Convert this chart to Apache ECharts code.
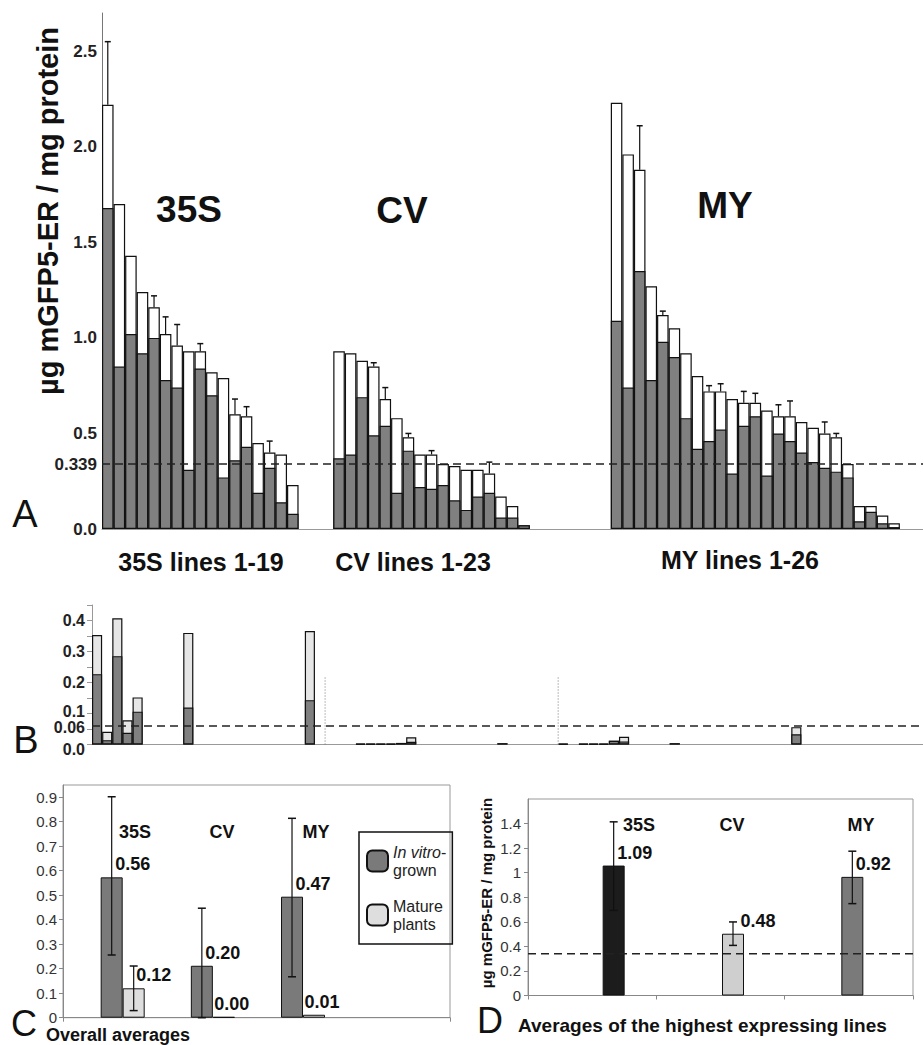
<!DOCTYPE html>
<html>
<head>
<meta charset="utf-8">
<script src="https://cdn.jsdelivr.net/npm/echarts@6/dist/echarts.min.js"></script>
<style>
html, body { margin: 0; padding: 0; background: #fff; }
#main { width: 923px; height: 1045px; }
</style>
</head>
<body>
<div id="main"></div>
<script>
// ---- panel A : per line, in vitro part (grey) and total height (white top), error top
const a35S_grey  = [1.68, 0.85, 1.02, 0.92, 1.00, 0.78, 0.74, 0.31, 0.84, 0.70, 0.27, 0.36, 0.43, 0.19, 0.32, 0.14, 0.08, 0, 0];
const a35S_total = [2.22, 1.70, 1.43, 1.24, 1.16, 1.02, 0.96, 0.93, 0.93, 0.82, 0.79, 0.60, 0.59, 0.45, 0.40, 0.39, 0.23, 0, 0];
const a35S_err   = [2.55, null, null, null, 1.22, 1.11, 1.07, null, 0.97, null, null, 0.68, 0.64, null, 0.46, null, null, null, null];

const aCV_grey  = [0.37, 0.39, 0.69, 0.49, 0.54, 0.19, 0.41, 0.22, 0.21, 0.23, 0.15, 0.10, 0.17, 0.19, 0.06, 0.06, 0.02, 0, 0, 0, 0, 0, 0];
const aCV_total = [0.93, 0.92, 0.88, 0.85, 0.68, 0.58, 0.48, 0.39, 0.39, 0.34, 0.33, 0.31, 0.31, 0.29, 0.17, 0.12, 0.02, 0, 0, 0, 0, 0, 0];
const aCV_err   = [null, null, null, 0.87, 0.74, null, 0.50, null, 0.41, null, null, null, null, 0.35, null, null, null, null, null, null, null, null, null];

const aMY_grey  = [1.09, 0.74, 1.35, 0.78, 0.98, 0.90, 0.58, 0.42, 0.46, 0.52, 0.29, 0.54, 0.59, 0.28, 0.50, 0.46, 0.40, 0.35, 0.32, 0.30, 0.27, 0.04, 0.09, 0.03, 0.01, 0];
const aMY_total = [2.23, 1.96, 1.88, 1.27, 1.12, 1.05, 0.92, 0.80, 0.72, 0.72, 0.68, 0.66, 0.66, 0.62, 0.59, 0.59, 0.56, 0.53, 0.50, 0.48, 0.34, 0.12, 0.12, 0.07, 0.03, 0];
const aMY_err   = [null, null, 2.11, null, 1.14, null, null, null, 0.75, 0.76, null, 0.72, 0.71, null, 0.65, 0.67, null, null, 0.56, 0.50, null, null, null, null, null, null];

const threshA = 0.339;
const ticksA = [0, 0.339, 0.5, 1.0, 1.5, 2.0, 2.5];

// ---- panel B : mature plants, same layout (slots per group)
const b35S_grey  = [0.227, 0.014, 0.285, 0.038, 0.106, 0, 0, 0, 0, 0.119, 0, 0, 0, 0, 0, 0, 0, 0, 0, 0, 0, 0.143, 0];
const b35S_total = [0.353, 0.041, 0.407, 0.078, 0.152, 0, 0, 0, 0, 0.360, 0, 0, 0, 0, 0, 0, 0, 0, 0, 0, 0, 0.366, 0];
const bCV_grey   = [0, 0, 0, 0.003, 0.003, 0.003, 0.003, 0.005, 0.009, 0, 0, 0, 0, 0, 0, 0, 0, 0.004, 0, 0, 0, 0, 0];
const bCV_total  = [0, 0, 0, 0.003, 0.003, 0.003, 0.003, 0.005, 0.023, 0, 0, 0, 0, 0, 0, 0, 0, 0.004, 0, 0, 0, 0, 0];
const bMY_grey   = [0.003, 0, 0.003, 0.003, 0.003, 0.012, 0.010, 0, 0, 0, 0, 0.004, 0, 0, 0, 0, 0, 0, 0, 0, 0, 0, 0, 0.033, 0, 0];
const bMY_total  = [0.003, 0, 0.003, 0.003, 0.003, 0.012, 0.025, 0, 0, 0, 0, 0.004, 0, 0, 0, 0, 0, 0, 0, 0, 0, 0, 0, 0.056, 0, 0];
const threshB = 0.06;
const ticksB = [0, 0.06, 0.1, 0.2, 0.3, 0.4];

// ---- panel C : overall averages
const groups = ['35S', 'CV', 'MY'];
const cVitro = [0.573, 0.212, 0.494];
const cVitroLabel = ['0.56', '0.20', '0.47'];
const cVitroLow = [0.256, 0, 0.167];
const cVitroHigh = [0.902, 0.447, 0.814];
const cMature = [0.12, 0.003, 0.012];
const cMatureLabel = ['0.12', '0.00', '0.01'];
const cMatureLow = [0.029, null, null];
const cMatureHigh = [0.211, null, null];

// ---- panel D : averages of the highest expressing lines
const dValue = [1.058, 0.503, 0.966];
const dLabel = ['1.09', '0.48', '0.92'];
const dLow = [0.693, 0.408, 0.748];
const dHigh = [1.414, 0.599, 1.175];

const FONT = '"Liberation Sans", Arial, sans-serif';
const nz = v => (v ? v : null);

// A: 35S | gap | CV | gap | MY | gap
const aGrey = [].concat(a35S_grey, [0], aCV_grey, [0], aMY_grey, [0]).map(nz);
const aTotal = [].concat(a35S_total, [0], aCV_total, [0], aMY_total, [0]).map(nz);
const aErr = [].concat(a35S_err, [null], aCV_err, [null], aMY_err, [null]);
const catsA = aGrey.map((v, i) => 'A' + i);
const errA = [];
aErr.forEach((e, i) => { if (e != null) errA.push([i, aTotal[i], e]); });

// B: 23 + 23 + 26 slots, empty tail
const tailB = new Array(10).fill(0);
const bGrey = [].concat(b35S_grey, bCV_grey, bMY_grey, tailB).map(nz);
const bTotal = [].concat(b35S_total, bCV_total, bMY_total, tailB).map(nz);
const catsB = bGrey.map((v, i) => 'B' + i);
const sep1 = b35S_grey.length, sep2 = sep1 + bCV_grey.length;

function errRender(dx, cap, both) {
	return function (params, api) {
		const x = api.value(0);
		const lo = api.coord([x, api.value(1)]);
		const hi = api.coord([x, api.value(2)]);
		const cx = lo[0] + dx;
		const kids = [
			{ type: 'line', shape: { x1: cx, y1: lo[1], x2: cx, y2: hi[1] }, style: { stroke: '#111', lineWidth: 1.2 } },
			{ type: 'line', shape: { x1: cx - cap, y1: hi[1], x2: cx + cap, y2: hi[1] }, style: { stroke: '#111', lineWidth: 1.5 } }
		];
		if (both) kids.push({ type: 'line', shape: { x1: cx - cap, y1: lo[1], x2: cx + cap, y2: lo[1] }, style: { stroke: '#111', lineWidth: 1.5 } });
		return { type: 'group', children: kids };
	};
}

function errData(low, high) {
	const out = [];
	low.forEach((l, i) => { if (high[i] != null) out.push([i, l, high[i]]); });
	return out;
}

function txt(x, y, text, font, extra) {
	return Object.assign({ type: 'text', x: x, y: y, style: { text: text, font: font, fill: '#111', align: 'center', verticalAlign: 'middle' } }, extra || {});
}

const chart = echarts.init(document.getElementById('main'), null, { renderer: 'svg' });

const boldLabel = { fontFamily: FONT, fontWeight: 'bold', color: '#111' };
const bLab = { fontSize: 16, fontWeight: 'bold', fontFamily: FONT, color: '#222' };

const option = {
	animation: false,
	backgroundColor: '#fff',
	textStyle: { fontFamily: FONT },
	grid: [
		{ left: 102, top: 13, width: 821, height: 516, outerBoundsMode: 'none' },
		{ left: 92, top: 605, width: 831, height: 139.5, outerBoundsMode: 'none' },
		{ left: 63, top: 785, width: 387, height: 232.7, show: true, borderColor: '#999', borderWidth: 1, outerBoundsMode: 'none' },
		{ left: 77.6, top: 785, width: 270.5, height: 232.7, outerBoundsMode: 'none' },
		{ left: 528, top: 799, width: 385, height: 196.5, show: true, borderColor: '#999', borderWidth: 1, outerBoundsMode: 'none' },
		{ left: 554, top: 799, width: 358, height: 196.5, outerBoundsMode: 'none' }
	],
	xAxis: [
		{ type: 'category', gridIndex: 0, data: catsA, axisLine: { lineStyle: { color: '#999' } }, axisTick: { length: 3, lineStyle: { color: '#bbb' } }, axisLabel: { show: false } },
		{ type: 'category', gridIndex: 1, data: catsB, axisLine: { lineStyle: { color: '#999' } }, axisTick: { length: 3, lineStyle: { color: '#bbb' } }, axisLabel: { show: false } },
		{ type: 'value', gridIndex: 1, min: 0, max: catsB.length, show: false },
		{ type: 'value', gridIndex: 2, min: 0, max: 1, interval: 1, axisLine: { show: true, lineStyle: { color: '#888' } }, axisTick: { show: true, length: 4, lineStyle: { color: '#888' } }, axisLabel: { show: false }, splitLine: { show: false } },
		{ type: 'category', gridIndex: 3, data: groups, show: false },
		{ type: 'value', gridIndex: 4, min: 0, max: 3, interval: 1, axisLine: { show: true, lineStyle: { color: '#888' } }, axisTick: { show: true, length: 4, lineStyle: { color: '#888' } }, axisLabel: { show: false }, splitLine: { show: false } },
		{ type: 'category', gridIndex: 5, data: groups, show: false }
	],
	yAxis: [
		{ type: 'value', gridIndex: 0, min: 0, max: 2.7, axisLine: { show: true, lineStyle: { color: '#777' } }, axisTick: { show: false }, splitLine: { show: false },
			axisLabel: { customValues: ticksA, margin: 5, fontSize: 17, fontWeight: 'bold', color: '#222', fontFamily: FONT,
				formatter: v => (Math.abs(v - threshA) < 1e-6 ? '0.339' : v.toFixed(1)) } },
		{ type: 'value', gridIndex: 1, min: 0, max: 0.45, axisLine: { show: true, lineStyle: { color: '#999' } }, splitLine: { show: false },
			axisTick: { show: true, length: 5, lineStyle: { color: '#999' }, customValues: [0, 0.05, 0.1, 0.15, 0.2, 0.25, 0.3, 0.35, 0.4, 0.45] },
			axisLabel: { customValues: ticksB, margin: 7, fontSize: 16, fontWeight: 'bold', color: '#222', fontFamily: FONT,
				formatter: v => (v === 0 ? '{lo|0.0}' : Math.abs(v - threshB) < 1e-6 ? '{mid|0.06}' : Math.abs(v - 0.1) < 1e-6 ? '{up|0.1}' : v.toFixed(1)),
				rich: {
					lo: Object.assign({ padding: [10, 0, 0, 0] }, bLab),
					mid: Object.assign({ padding: [4, 0, 0, 0] }, bLab),
					up: Object.assign({ padding: [0, 0, 4, 0] }, bLab)
				} } },
		{ type: 'value', gridIndex: 2, min: 0, max: 0.95, interval: 0.1, axisLine: { show: true, lineStyle: { color: '#888' } },
			axisTick: { show: true, length: 4, lineStyle: { color: '#888' } }, splitLine: { show: false },
			axisLabel: { showMaxLabel: false, margin: 6, fontSize: 15, color: '#333', fontFamily: FONT } },
		{ type: 'value', gridIndex: 3, min: 0, max: 0.95, show: false, splitLine: { show: false } },
		{ type: 'value', gridIndex: 4, min: 0, max: 1.6, interval: 0.2, axisLine: { show: true, lineStyle: { color: '#888' } },
			axisTick: { show: true, length: 4, lineStyle: { color: '#888' } }, splitLine: { show: false },
			axisLabel: { showMaxLabel: false, margin: 7, fontSize: 15, color: '#333', fontFamily: FONT } },
		{ type: 'value', gridIndex: 5, min: 0, max: 1.6, show: false, splitLine: { show: false } }
	],
	legend: {
		left: 359, top: 832, orient: 'vertical',
		data: ['In vitro-grown', 'Mature plants'],
		itemWidth: 21, itemHeight: 21, itemGap: 18,
		padding: [11, 6, 11, 7],
		borderColor: '#111', borderWidth: 1.5,
		selectedMode: false,
		textStyle: { fontSize: 16, lineHeight: 18, color: '#222', fontFamily: FONT,
			rich: { i: { fontStyle: 'italic', fontSize: 16, lineHeight: 18, fontFamily: FONT } } },
		formatter: name => (name === 'In vitro-grown' ? '{i|In vitro}-\ngrown' : 'Mature\nplants')
	},
	series: [
		{ type: 'bar', name: 'A total', xAxisIndex: 0, yAxisIndex: 0, data: aTotal, barCategoryGap: '0%', barGap: '-100%',
			itemStyle: { color: '#fff', borderColor: '#111', borderWidth: 1.2 },
			markLine: { silent: true, symbol: 'none', label: { show: false }, lineStyle: { type: [8, 5], color: '#222', width: 1.5 }, data: [{ yAxis: threshA }] } },
		{ type: 'bar', name: 'A in vitro', xAxisIndex: 0, yAxisIndex: 0, data: aGrey, barCategoryGap: '0%', barGap: '-100%',
			itemStyle: { color: '#808080', borderColor: '#111', borderWidth: 1.2 } },
		{ type: 'custom', name: 'A err', xAxisIndex: 0, yAxisIndex: 0, data: errA, encode: { x: 0, y: [1, 2] }, renderItem: errRender(0, 3, false), z: 5 },

		{ type: 'bar', name: 'B total', xAxisIndex: 1, yAxisIndex: 1, data: bTotal, barCategoryGap: '0%', barGap: '-100%',
			itemStyle: { color: '#e6e6e6', borderColor: '#111', borderWidth: 1.2 },
			markLine: { silent: true, symbol: 'none', label: { show: false }, lineStyle: { type: [8, 5], color: '#222', width: 1.5 }, data: [{ yAxis: threshB }] } },
		{ type: 'bar', name: 'B in vitro', xAxisIndex: 1, yAxisIndex: 1, data: bGrey, barCategoryGap: '0%', barGap: '-100%',
			itemStyle: { color: '#808080', borderColor: '#111', borderWidth: 1.2 } },
		{ type: 'line', name: 'B sep1', xAxisIndex: 2, yAxisIndex: 1, data: [[sep1, 0], [sep1, 0.22]], symbol: 'none', lineStyle: { color: '#777', width: 1, type: [1, 2] } },
		{ type: 'line', name: 'B sep2', xAxisIndex: 2, yAxisIndex: 1, data: [[sep2, 0], [sep2, 0.22]], symbol: 'none', lineStyle: { color: '#777', width: 1, type: [1, 2] } },

		{ type: 'bar', name: 'In vitro-grown', xAxisIndex: 4, yAxisIndex: 3, barWidth: 22, barGap: '0%',
			itemStyle: { color: '#7a7a7a', borderColor: '#111', borderWidth: 1 },
			data: cVitro.map((v, i) => ({ value: v, label: { formatter: cVitroLabel[i] } })),
			label: { show: true, position: 'top', distance: 4, offset: [21, 0], fontSize: 18, ...boldLabel } },
		{ type: 'bar', name: 'Mature plants', xAxisIndex: 4, yAxisIndex: 3, barWidth: 22, barGap: '0%',
			itemStyle: { color: '#dedede', borderColor: '#111', borderWidth: 1 },
			data: cMature.map((v, i) => ({ value: v, label: { formatter: cMatureLabel[i], offset: [v > 0.05 ? 20 : 8, 0] } })),
			label: { show: true, position: 'top', distance: 4, fontSize: 18, ...boldLabel } },
		{ type: 'custom', name: 'C err vitro', xAxisIndex: 4, yAxisIndex: 3, data: errData(cVitroLow, cVitroHigh), encode: { x: 0, y: [1, 2] }, renderItem: errRender(-11, 4, true), z: 5 },
		{ type: 'custom', name: 'C err mature', xAxisIndex: 4, yAxisIndex: 3, data: errData(cMatureLow, cMatureHigh), encode: { x: 0, y: [1, 2] }, renderItem: errRender(11, 4, true), z: 5 },

		{ type: 'bar', name: 'D', xAxisIndex: 6, yAxisIndex: 5, barWidth: 22,
			data: dValue.map((v, i) => ({ value: v, itemStyle: { color: ['#1c1c1c', '#cfcfcf', '#7a7a7a'][i] }, label: { formatter: dLabel[i], offset: [i === 1 ? 25 : 21, 0] } })),
			itemStyle: { borderColor: '#111', borderWidth: 1 },
			label: { show: true, position: 'top', distance: 4, fontSize: 18, ...boldLabel } },
		{ type: 'custom', name: 'D err', xAxisIndex: 6, yAxisIndex: 5, data: errData(dLow, dHigh), encode: { x: 0, y: [1, 2] }, renderItem: errRender(0, 4, true), z: 5 },
		{ type: 'line', name: 'D thresh', xAxisIndex: 5, yAxisIndex: 4, data: [[0, threshA], [3, threshA]], symbol: 'none', lineStyle: { type: [8, 5], color: '#222', width: 1.5 } }
	],
	graphic: [
		txt(48, 211, 'µg mGFP5-ER / mg protein', 'bold 29px ' + FONT, { rotation: Math.PI / 2 }),
		txt(189, 209, '35S', 'bold 37px ' + FONT),
		txt(402, 210, 'CV', 'bold 37px ' + FONT),
		txt(725, 205, 'MY', 'bold 37px ' + FONT),
		txt(201, 562, '35S lines 1-19', 'bold 25px ' + FONT),
		txt(413, 562, 'CV lines 1-23', 'bold 25px ' + FONT),
		txt(740, 560, 'MY lines 1-26', 'bold 25px ' + FONT),
		txt(25, 514, 'A', '38px ' + FONT),
		txt(26, 740, 'B', '38px ' + FONT),
		txt(24, 1023, 'C', '36px ' + FONT),
		txt(490, 1020, 'D', '36px ' + FONT),
		{ type: 'text', x: 46, y: 1044, style: { text: 'Overall averages', font: 'bold 18px ' + FONT, fill: '#111', align: 'left', verticalAlign: 'bottom' } },
		{ type: 'text', x: 518, y: 1025, style: { text: 'Averages of the highest expressing lines', font: 'bold 19px ' + FONT, fill: '#111', align: 'left', verticalAlign: 'middle' } },
		txt(135, 832, '35S', 'bold 18px ' + FONT),
		txt(222, 832, 'CV', 'bold 18px ' + FONT),
		txt(316, 832, 'MY', 'bold 18px ' + FONT),
		txt(639, 825, '35S', 'bold 18px ' + FONT),
		txt(732, 825, 'CV', 'bold 18px ' + FONT),
		txt(861, 825, 'MY', 'bold 18px ' + FONT),
		txt(486, 893, 'µg mGFP5-ER / mg protein', 'bold 15px ' + FONT, { rotation: Math.PI / 2 })
	]
};

chart.setOption(option);
</script>
</body>
</html>
